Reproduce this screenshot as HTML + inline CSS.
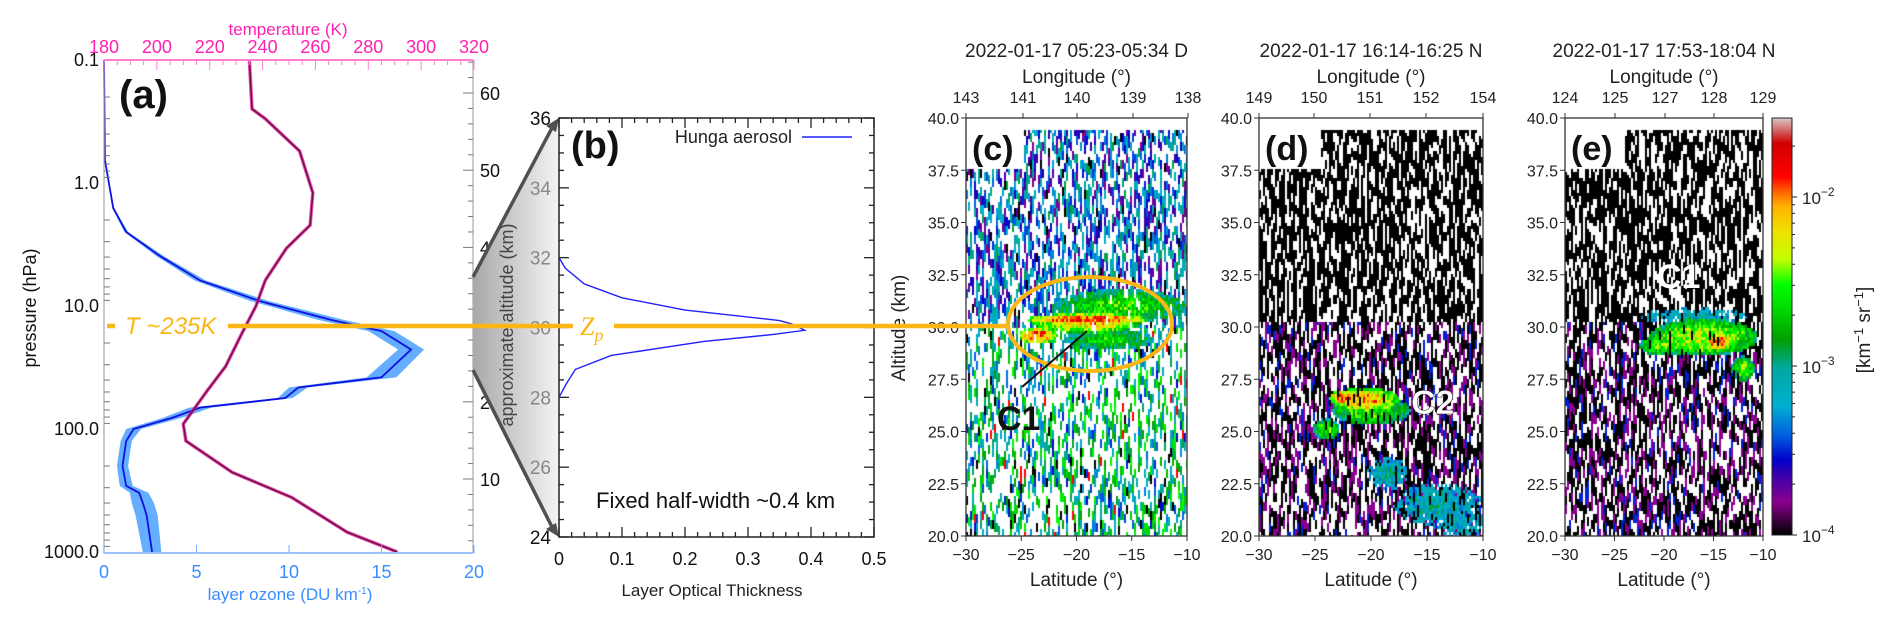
<!DOCTYPE html>
<html><head><meta charset="utf-8">
<style>
body{margin:0;background:#fff;width:1892px;height:625px;overflow:hidden;position:relative;font-family:"Liberation Sans",sans-serif}
svg{position:absolute;left:0;top:0}
canvas{position:absolute}
</style></head>
<body>
<canvas id="hc" width="221" height="418" style="left:966px;top:118px"></canvas>
<canvas id="hd" width="224" height="418" style="left:1259px;top:118px"></canvas>
<canvas id="he" width="198" height="418" style="left:1565px;top:118px"></canvas>
<svg id="s" width="1892" height="625" xmlns="http://www.w3.org/2000/svg">
<defs>
<linearGradient id="gz" x1="0" x2="1" y1="0" y2="0"><stop offset="0" stop-color="#a8a8a8"/><stop offset="1" stop-color="#f4f4f4"/></linearGradient>
<linearGradient id="cb" x1="0" x2="0" y1="1" y2="0">
<stop offset="0" stop-color="#000"/><stop offset="0.08" stop-color="#8a0090"/><stop offset="0.15" stop-color="#3000b0"/><stop offset="0.18" stop-color="#0000cc"/><stop offset="0.24" stop-color="#0060e0"/><stop offset="0.31" stop-color="#00b0d0"/><stop offset="0.4" stop-color="#00a8a0"/><stop offset="0.47" stop-color="#00a000"/><stop offset="0.55" stop-color="#00e000"/><stop offset="0.6" stop-color="#00ff00"/><stop offset="0.66" stop-color="#c0ff00"/><stop offset="0.73" stop-color="#f0e000"/><stop offset="0.79" stop-color="#ffb000"/><stop offset="0.83" stop-color="#ff5000"/><stop offset="0.86" stop-color="#ff0000"/><stop offset="0.94" stop-color="#d00000"/><stop offset="1" stop-color="#d8c8c8"/>
</linearGradient>
</defs>
<g id="ga"></g><g id="gb"></g><g id="gc"></g>
</svg>
<script>
// ---------- panel (a) data ----------
const o3P=[0.1,0.65,1.6,2.5,3.9,6.2,9.1,13,16,22.6,38,46,56,67,81,100,125,200,290,330,400,500,1000];
const o3V=[0,0.05,0.5,1.2,3.0,5.2,8.4,12.3,15,16.6,15,10.5,9.8,5.2,3.7,1.6,1.2,1.0,1.2,1.9,2.1,2.3,2.6];
const o3E=[0,0,0.05,0.1,0.2,0.3,0.5,0.7,0.7,0.7,0.8,0.5,0.4,0.6,0.5,0.4,0.3,0.3,0.35,0.5,0.6,0.6,0.5];
const tP=[0.1,0.25,0.3,0.55,1.2,2.2,3.4,6.2,10,17,31,49,91,125,225,360,690,1000];
const tV=[235,236,241,254,259,258,249,241,237.5,232,226,219,210,211,228.5,251,272,291];
const presTicks=[0.1,1.0,10.0,100.0,1000.0];
const ozTicks=[0,5,10,15,20];
const tempTicks=[180,200,220,240,260,280,300,320];
const altTicks=[10,20,30,40,50,60];
// ---------- panel (b) data ----------
const aerAlt=[28.0,28.4,28.8,29.2,29.6,29.8,29.92,30.1,30.2,30.5,30.85,31.25,31.7,32.0];
const aerTau=[0,0.012,0.026,0.083,0.23,0.34,0.39,0.37,0.35,0.2,0.1,0.04,0.01,0];
const bYTicks=[24,26,28,30,32,34,36];
const bXTicks=[0,0.1,0.2,0.3,0.4,0.5];
// ---------- lidar panels data ----------
const latTicks=[-30,-25,-20,-15,-10];
const altTicksC=[20.0,22.5,25.0,27.5,30.0,32.5,35.0,37.5,40.0];
const lonC=["143","141","140","139","138"];
const lonD=["149","150","151","152","154"];
const lonE=["124","125","127","128","129"];
const plumeC=[[-16,31.0,6,0.8,0.58],[-17,29.4,4,0.5,0.55],[-19,30.2,5,0.5,0.75],[-19,30.35,5.5,0.3,0.88],[-23.5,29.6,1.8,0.4,0.86]];
const plumeD=[[-20,26.0,3.5,0.7,0.6],[-20.5,26.5,3,0.6,0.8],[-22.5,26.6,1.2,0.4,0.86],[-24,25.1,1.2,0.5,0.6],[-18.5,23.0,1.8,0.8,0.38],[-14,21.5,4,1.0,0.38],[-12,20.6,2.5,0.7,0.35]];
const plumeE=[[-17,30.5,5.5,0.4,0.35],[-16,29.5,5.5,0.9,0.68],[-20,29.1,2.5,0.5,0.6],[-12,28,1.2,0.6,0.62],[-14.5,29.3,1.5,0.4,0.86]];
const cbTicks=[-4,-3,-2];

const NS="http://www.w3.org/2000/svg";
function mk(tag,attrs,parent,txt){const e=document.createElementNS(NS,tag);for(const k in attrs)e.setAttribute(k,attrs[k]);if(txt!==undefined)e.textContent=txt;parent.appendChild(e);return e;}

// ===== panel (a) =====
const ga=document.getElementById('ga');
const yP=p=>60+(Math.log10(p)+1)*123;
const xO=v=>104+v*18.5;
const xT=t=>104+(t-180)*(370/140);
const yA=z=>93+(60-z)*7.72;
let band=o3P.map((p,i)=>xO(o3V[i]+o3E[i])+','+yP(p)).concat(o3P.map((p,i)=>xO(Math.max(0,o3V[i]-o3E[i]))+','+yP(p)).reverse()).join(' ');
let e1=mk('polygon',{points:band,fill:'#4aa0ff','fill-opacity':0.85},ga);

let l1=mk('polyline',{points:o3P.map((p,i)=>xO(o3V[i])+','+yP(p)).join(' '),fill:'none',stroke:'#1010e0','stroke-width':1.8},ga);

let e2=mk('polyline',{points:tP.map((p,i)=>xT(tV[i])+','+yP(p)).join(' '),fill:'none',stroke:'#e020a0','stroke-width':3.5,'stroke-opacity':0.8},ga);

let l2=mk('polyline',{points:tP.map((p,i)=>xT(tV[i])+','+yP(p)).join(' '),fill:'none',stroke:'#701040','stroke-width':1.5},ga);

let fa=mk('rect',{x:104,y:60,width:369,height:493,fill:'none',stroke:'#aaa','stroke-width':1.2},ga);

mk('line',{x1:104,y1:60,x2:473,y2:60,stroke:'#ff80d0','stroke-width':2},ga);
mk('line',{x1:104,y1:553,x2:473,y2:553,stroke:'#9cc4ff','stroke-width':2},ga);
presTicks.forEach(p=>{
  let t=mk('text',{x:99,y:yP(p)+6,'text-anchor':'end','font-size':18,fill:'#111'},ga,p.toFixed(1));
  
  for(let m=2;m<10&&p<1000;m++){mk('line',{x1:104,y1:yP(p*m),x2:110,y2:yP(p*m),stroke:'#777'},ga);}
});
ozTicks.forEach(v=>{
  let t=mk('text',{x:xO(v),y:578,'text-anchor':'middle','font-size':18,fill:'#3a8cff'},ga,v);
  
  mk('line',{x1:xO(v),y1:553,x2:xO(v),y2:545,stroke:'#7aa8ff'},ga);
});
tempTicks.forEach(v=>{
  let t=mk('text',{x:xT(v),y:53,'text-anchor':'middle','font-size':18,fill:'#ff20b0'},ga,v);
  
});
for(let v=180;v<=320;v+=5)mk('line',{x1:xT(v),y1:60,x2:xT(v),y2:v%20==0?70:65,stroke:'#ff80d0'},ga);
altTicks.forEach(z=>{
  let t=mk('text',{x:480,y:yA(z)+7,'font-size':18,fill:'#111'},ga,z);
  
});
for(let z=2;z<=64;z+=2)mk('line',{x1:473,y1:yA(z),x2:z%10==0?463:468,y2:yA(z),stroke:'#777'},ga);
let tt=mk('text',{x:288,y:35,'text-anchor':'middle','font-size':17,fill:'#ff20b0'},ga,'temperature (K)');

let ot=mk('text',{x:290,y:600,'text-anchor':'middle','font-size':17,fill:'#3a8cff'},ga,'layer ozone (DU km');

mk('tspan',{dy:-6,'font-size':10},ot,'-1');mk('tspan',{dy:6},ot,')');
let pt=mk('text',{transform:'translate(36,308) rotate(-90)','text-anchor':'middle','font-size':18,fill:'#111'},ga,'pressure (hPa)');

let la=mk('text',{x:119,y:108,'font-size':40,'font-weight':'bold',fill:'#111'},ga,'(a)');


// ===== panel (b) =====
const gb=document.getElementById('gb');
const yB=z=>118+(36-z)*(419/12);
const xB=t=>559+t*630;
let zm=mk('polygon',{points:'473,277 559,118 559,537 473,370',fill:'url(#gz)'},gb);

mk('line',{x1:473,y1:277,x2:553,y2:126,stroke:'#505050','stroke-width':3.5},gb);
mk('line',{x1:473,y1:370,x2:553,y2:529,stroke:'#505050','stroke-width':3.5},gb);
mk('polygon',{points:'559,118 546,126 556,132',fill:'#505050'},gb);
mk('polygon',{points:'559,537 546,529 556,523',fill:'#505050'},gb);
let fb=mk('rect',{x:559,y:118,width:315,height:419,fill:'none',stroke:'#222','stroke-width':1.5},gb);

for(let z=24;z<=36;z+=0.5){const L=(z%2==0)?10:5;mk('line',{x1:559,y1:yB(z),x2:559+L,y2:yB(z),stroke:'#222','stroke-width':1.3},gb);mk('line',{x1:874,y1:yB(z),x2:874-L,y2:yB(z),stroke:'#222','stroke-width':1.3},gb);}
for(let t=0;t<=0.5001;t+=0.02){const L=(Math.round(t*100)%10==0)?10:5;mk('line',{x1:xB(t),y1:537,x2:xB(t),y2:537-L,stroke:'#222','stroke-width':1.3},gb);mk('line',{x1:xB(t),y1:118,x2:xB(t),y2:118+L,stroke:'#222','stroke-width':1.3},gb);}
bYTicks.forEach(z=>{
  let t=mk('text',{x:551,y:yB(z)+7,'text-anchor':'end','font-size':19,fill:(z==24||z==36)?'#111':'#888'},gb,z);
  
});
bXTicks.forEach(v=>{
  let t=mk('text',{x:xB(v),y:565,'text-anchor':'middle','font-size':18,fill:'#111'},gb,v);
  
});
let bl=mk('polyline',{points:aerAlt.map((z,i)=>xB(aerTau[i])+','+yB(z)).join(' '),fill:'none',stroke:'#2020ff','stroke-width':1.4},gb);

let bx=mk('text',{x:712,y:596,'text-anchor':'middle','font-size':17,fill:'#222'},gb,'Layer Optical Thickness');

let by=mk('text',{transform:'translate(513,325) rotate(-90)','text-anchor':'middle','font-size':18,fill:'#444'},gb,'approximate altitude (km)');

let lb=mk('text',{x:571,y:158,'font-size':38,'font-weight':'bold',fill:'#111'},gb,'(b)');

let lg=mk('text',{x:792,y:143,'text-anchor':'end','font-size':18,fill:'#222'},gb,'Hunga aerosol');

mk('line',{x1:802,y1:137,x2:852,y2:137,stroke:'#2020ff','stroke-width':1.4},gb);
let fw=mk('text',{x:596,y:508,'font-size':22,fill:'#111'},gb,'Fixed half-width ~0.4 km');


// ===== lidar panels =====
const stops=[[0,0,0,0],[0.08,138,0,144],[0.15,48,0,176],[0.18,0,0,204],[0.24,0,96,224],[0.31,0,176,208],[0.4,0,168,160],[0.47,0,160,0],[0.55,0,224,0],[0.6,0,255,0],[0.66,192,255,0],[0.73,240,224,0],[0.79,255,176,0],[0.83,255,80,0],[0.86,255,0,0],[0.94,208,0,0],[1,216,200,200]];
function cmap(t){t=Math.max(0,Math.min(1,t));for(let i=1;i<stops.length;i++){if(t<=stops[i][0]){const a=stops[i-1],b=stops[i],f=(t-a[0])/(b[0]-a[0]);return 'rgb('+[1,2,3].map(k=>Math.round(a[k]+(b[k]-a[k])*f)).join(',')+')';}}return 'rgb(216,200,200)';}
function hash(a,b,s){let h=(a*374761393+b*668265263+s*2147483647)|0;h=(h^(h>>>13))*1274126177|0;h=h^(h>>>16);return (h>>>0)/4294967296;}
function drawLidar(id,plumes,kind,seed,boxW){
  const cv=document.getElementById(id),ctx=cv.getContext('2d'),W=cv.width,H=cv.height;
  ctx.imageSmoothingEnabled=false;
  ctx.fillStyle='#fff';ctx.fillRect(0,0,W,H);
  for(let c=0;c<W/2;c++){
    const off=(c*7)%5;
    for(let r=0;r<H/3;r++){
      const px=c*2,py=r*3;
      const lat=-30+(px+1)/W*20, alt=40-(py+1.5)/H*20;
      if(alt>39.4) continue;
      if(alt>37.5 && px<boxW) continue;
      const seg=Math.floor((r+off)/3);
      const h1=hash(c,seg,seed),h2=hash(c,seg,seed+7),h3=hash(c,r,seed+13);
      let best=0;
      for(const p of plumes){const dx=(lat-p[0])/p[2],dy=(alt-p[1])/p[3],d=dx*dx+dy*dy;if(d<1){const v=p[4]*(1-0.35*d)+(h3-0.5)*0.2;if(v>best)best=v;}}
      let col=null;
      if(best>0.25 && h1>0.08){col=cmap(best);}
      else if(kind=='c'){
        const wf=alt>30?0.45:0.55;
        if(h1<wf) col=null;
        else if(h1<wf+0.04) col='#000';
        else{const lo=alt>30?0.08:0.18,hi=alt>30?0.45:0.62;col=cmap(lo+(hi-lo)*h2);
          if(h2>0.97&&alt<30) col=cmap(0.86);}
      } else {
        if(alt>30.2){col=h1<0.62?'#000':null;}
        else if(alt>29&&kind=='e'&&lat>-22){col=h1<0.75?'#000':null;}
        else {col=h1<0.38?'#000':(h1<0.74?null:(h1<0.92?cmap(0.08):cmap(0.2)));}
      }
      if(col){ctx.fillStyle=col;ctx.fillRect(px,py,2,3);}
    }
  }
}
drawLidar('hc',plumeC,'c',11,57);
drawLidar('hd',plumeD,'d',23,61);
drawLidar('he',plumeE,'e',37,59);

const gc=document.getElementById('gc');
const yZ=a=>118+(40-a)/20*418;
const panels=[{x0:966,w:221,lon:lonC,lonX:[966,1023,1077,1133,1188],title:'2022-01-17 05:23-05:34 D',lab:'(c)',n:'c'},
{x0:1259,w:224,lon:lonD,lonX:[1259,1314,1370,1426,1483],title:'2022-01-17 16:14-16:25 N',lab:'(d)',n:'d'},
{x0:1565,w:198,lon:lonE,lonX:[1565,1615,1665,1714,1763],title:'2022-01-17 17:53-18:04 N',lab:'(e)',n:'e'}];
panels.forEach(P=>{
  const xL=l=>P.x0+(l+30)/20*P.w;
  let fr=mk('rect',{x:P.x0,y:118,width:P.w,height:418,fill:'none',stroke:'#333','stroke-width':1.3},gc);
  
  altTicksC.forEach(a=>{
    mk('line',{x1:P.x0,y1:yZ(a),x2:P.x0-5,y2:yZ(a),stroke:'#333'},gc);
    let t=mk('text',{x:P.x0-7,y:yZ(a)+6,'text-anchor':'end','font-size':16,fill:'#222'},gc,a.toFixed(1));
    
  });
  latTicks.forEach(l=>{
    mk('line',{x1:xL(l),y1:536,x2:xL(l),y2:541,stroke:'#333'},gc);
    let t=mk('text',{x:xL(l),y:560,'text-anchor':'middle','font-size':16,fill:'#222'},gc,l<0?'\u2212'+(-l):l);
    
  });
  P.lon.forEach((s,i)=>{
    mk('line',{x1:P.lonX[i],y1:118,x2:P.lonX[i],y2:113,stroke:'#333'},gc);
    let t=mk('text',{x:P.lonX[i],y:103,'text-anchor':'middle','font-size':16,fill:'#222'},gc,s);
    
  });
  const cx=P.x0+P.w/2;
  let ti=mk('text',{x:cx,y:57,'text-anchor':'middle','font-size':19,fill:'#222'},gc,P.title);
  
  let lo=mk('text',{x:cx,y:83,'text-anchor':'middle','font-size':19,fill:'#222'},gc,'Longitude (°)');
  
  let lt=mk('text',{x:cx,y:586,'text-anchor':'middle','font-size':19,fill:'#222'},gc,'Latitude (°)');
  
  let pl=mk('text',{x:P.x0+6,y:160,'font-size':34,'font-weight':'bold',fill:'#111'},gc,P.lab);
  
});
let ay=mk('text',{transform:'translate(905,328) rotate(-90)','text-anchor':'middle','font-size':19,fill:'#222'},gc,'Altitude (km)');


// colorbar
let cbr=mk('rect',{x:1772,y:118,width:20,height:417,fill:'url(#cb)',stroke:'#222','stroke-width':1},gc);

const yC=lg=>535-(lg+4)*169;
cbTicks.forEach(v=>{
  mk('line',{x1:1792,y1:yC(v),x2:1797,y2:yC(v),stroke:'#222'},gc);
  let t=mk('text',{x:1802,y:yC(v)+7,'font-size':17,fill:'#222'},gc,'10');
  mk('tspan',{dy:-8,'font-size':12},t,'\u2212'+(-v));
  
});
for(let d=-4;d<-1;d++)for(let m=2;m<10;m++){const y=yC(d+Math.log10(m));if(y>118)mk('line',{x1:1792,y1:y,x2:1795,y2:y,stroke:'#222'},gc);}
let cbl=mk('text',{transform:'translate(1870,330) rotate(-90)','text-anchor':'middle','font-size':19,fill:'#222'},gc,'[km');
mk('tspan',{dy:-7,'font-size':13},cbl,'\u22121');mk('tspan',{dy:7},cbl,' sr');mk('tspan',{dy:-7,'font-size':13},cbl,'\u22121');mk('tspan',{dy:7},cbl,']');


// annotations
let ell=mk('ellipse',{cx:1090,cy:324,rx:82,ry:47,fill:'none',stroke:'#fbb615','stroke-width':4},gc);

const OR='#fbb615';
[[107,115],[228,573],[614,1008]].forEach(s=>{let l=mk('line',{x1:s[0],y1:326,x2:s[1],y2:326,stroke:OR,'stroke-width':4.5},gc);});
let tk=mk('text',{x:125,y:334,'font-size':24,'font-style':'italic',fill:OR},gc,'T ~235K');

let zp=mk('text',{x:580,y:335,'font-size':26,'font-style':'italic','font-family':'Liberation Serif, serif',fill:OR},gc,'Z');
mk('tspan',{dy:6,'font-size':18},zp,'p');

let ar=mk('line',{x1:1022,y1:387,x2:1087,y2:331,stroke:'#111','stroke-width':2},gc);

let c1=mk('text',{x:997,y:430,'font-size':34,'font-weight':'bold',fill:'#111'},gc,'C1');

let c2=mk('text',{x:1411,y:414,'font-size':34,'font-weight':'bold',fill:'#fff',stroke:'#222','stroke-width':0.5},gc,'C2');

let c1e=mk('text',{x:1657,y:288,'font-size':34,'font-weight':'bold',fill:'#fff'},gc,'C1');

</script>
</body></html>
